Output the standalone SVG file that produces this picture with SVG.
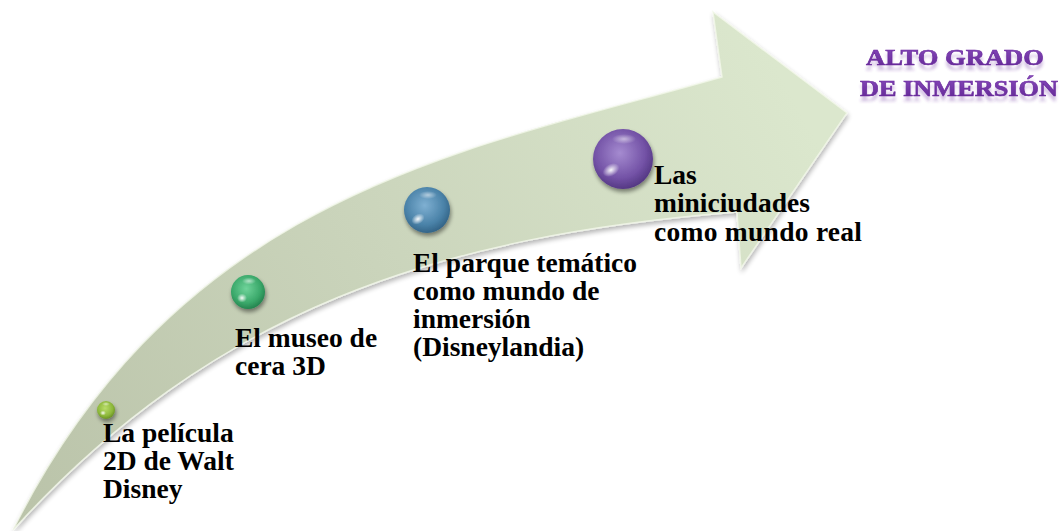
<svg xmlns="http://www.w3.org/2000/svg" width="1063" height="531" viewBox="0 0 1063 531">
<defs>
<style>
text{font-family:'Liberation Serif','Times New Roman',Times,serif;font-weight:bold}
.lbl{font-size:27.5px;fill:#000}
.ttl{font-size:23.5px;fill:url(#purp);stroke:#6a2a9e;stroke-width:0.6}
</style>
<linearGradient id="shaft" gradientUnits="userSpaceOnUse" x1="13" y1="530" x2="800" y2="110">
<stop offset="0" stop-color="#bac3a9"/>
<stop offset="0.5" stop-color="#cad4bb"/>
<stop offset="1" stop-color="#dbe7cd"/>
</linearGradient>
<linearGradient id="purp" x1="0" y1="0" x2="0" y2="1">
<stop offset="0" stop-color="#8a4cc0"/>
<stop offset="1" stop-color="#5f2590"/>
</linearGradient>
<filter id="shadow" x="-10%" y="-10%" width="120%" height="120%">
<feGaussianBlur in="SourceAlpha" stdDeviation="2.5"/>
<feOffset dx="1" dy="3" result="b"/>
<feComponentTransfer><feFuncA type="linear" slope="0.3"/></feComponentTransfer>
<feMerge><feMergeNode/><feMergeNode in="SourceGraphic"/></feMerge>
</filter>
<filter id="ballsh" x="-40%" y="-40%" width="180%" height="180%">
<feGaussianBlur in="SourceAlpha" stdDeviation="2"/>
<feOffset dx="1" dy="3"/>
<feComponentTransfer><feFuncA type="linear" slope="0.45"/></feComponentTransfer>
<feMerge><feMergeNode/><feMergeNode in="SourceGraphic"/></feMerge>
</filter>
<filter id="refl" x="-5%" y="-30%" width="110%" height="180%">
<feGaussianBlur in="SourceGraphic" stdDeviation="1.6"/>
<feOffset dx="0" dy="5" result="b"/>
<feComponentTransfer in="b" result="c"><feFuncA type="linear" slope="0.3"/></feComponentTransfer>
<feMerge><feMergeNode in="c"/><feMergeNode in="SourceGraphic"/></feMerge>
</filter>
<radialGradient id="gYel" cx="0.45" cy="0.4" r="0.6">
<stop offset="0" stop-color="#b9dc6a"/><stop offset="0.7" stop-color="#8db83a"/><stop offset="1" stop-color="#6a9224"/>
</radialGradient>
<radialGradient id="gGrn" cx="0.45" cy="0.4" r="0.6">
<stop offset="0" stop-color="#6fd39a"/><stop offset="0.7" stop-color="#3aa86a"/><stop offset="1" stop-color="#25844f"/>
</radialGradient>
<radialGradient id="gBlu" cx="0.45" cy="0.4" r="0.6">
<stop offset="0" stop-color="#7fb0d2"/><stop offset="0.7" stop-color="#4a82a8"/><stop offset="1" stop-color="#336487"/>
</radialGradient>
<radialGradient id="gPur" cx="0.45" cy="0.4" r="0.6">
<stop offset="0" stop-color="#a58bd0"/><stop offset="0.7" stop-color="#7352a6"/><stop offset="1" stop-color="#553884"/>
</radialGradient>
<radialGradient id="hl" cx="0.5" cy="0.5" r="0.5">
<stop offset="0" stop-color="#fff" stop-opacity="0.95"/><stop offset="1" stop-color="#fff" stop-opacity="0"/>
</radialGradient>
</defs>
<rect width="1063" height="531" fill="#fff"/>
<g id="connectors">
<path filter="url(#shadow)" fill="url(#shaft)" stroke="#f2f7ea" stroke-opacity="0.8" stroke-width="1.5" d="M13,530 C183,190 472,149 722,77 L713,12 L847,113 L741,268 L737,212 C437,236 213,310 13,530 Z"/>
</g>
<g id="node1">
<g filter="url(#ballsh)"><circle cx="106" cy="410" r="9" fill="url(#gYel)"/></g>
<ellipse cx="103" cy="413" rx="3" ry="2.5" fill="url(#hl)"/>
<ellipse cx="106" cy="404" rx="4" ry="2" fill="url(#hl)" opacity="0.6"/>
<text class="lbl" font-family="Liberation Serif, serif" font-weight="bold"><tspan x="103" y="442">La película</tspan><tspan x="103" y="470">2D de Walt</tspan><tspan x="103" y="498">Disney</tspan></text>
</g>
<g id="node2">
<g filter="url(#ballsh)"><circle cx="248" cy="292" r="17" fill="url(#gGrn)"/></g>
<ellipse cx="242" cy="298" rx="5" ry="4.5" fill="url(#hl)"/>
<ellipse cx="249" cy="281" rx="7" ry="3.5" fill="url(#hl)" opacity="0.6"/>
<text class="lbl" font-family="Liberation Serif, serif" font-weight="bold"><tspan x="235" y="347">El museo de</tspan><tspan x="235" y="375">cera 3D</tspan></text>
</g>
<g id="node3">
<g filter="url(#ballsh)"><circle cx="427" cy="210" r="23" fill="url(#gBlu)"/></g>
<ellipse cx="418" cy="219" rx="7" ry="5" fill="url(#hl)" transform="rotate(-30 418 219)"/>
<ellipse cx="428" cy="195" rx="9" ry="4" fill="url(#hl)" opacity="0.55"/>
<text class="lbl" font-family="Liberation Serif, serif" font-weight="bold"><tspan x="413" y="272">El parque temático</tspan><tspan x="413" y="300">como mundo de</tspan><tspan x="413" y="328">inmersión</tspan><tspan x="413" y="356">(Disneylandia)</tspan></text>
</g>
<g id="node4">
<g filter="url(#ballsh)"><circle cx="623" cy="159" r="30" fill="url(#gPur)"/></g>
<ellipse cx="611" cy="170" rx="9" ry="6" fill="url(#hl)" transform="rotate(-30 611 170)"/>
<ellipse cx="624" cy="139" rx="12" ry="5" fill="url(#hl)" opacity="0.55"/>
<text class="lbl" font-family="Liberation Serif, serif" font-weight="bold"><tspan x="654" y="184">Las</tspan><tspan x="654" y="212">miniciudades</tspan><tspan x="654" y="241" textLength="208" lengthAdjust="spacing">como mundo real</tspan></text>
</g>
<g id="title" filter="url(#refl)">
<text class="ttl" font-family="Liberation Serif, serif" font-weight="bold" x="866" y="65" textLength="178" lengthAdjust="spacingAndGlyphs">ALTO GRADO</text>
<text class="ttl" font-family="Liberation Serif, serif" font-weight="bold" x="860" y="96" textLength="198" lengthAdjust="spacingAndGlyphs">DE INMERSIÓN</text>
</g>
</svg>
